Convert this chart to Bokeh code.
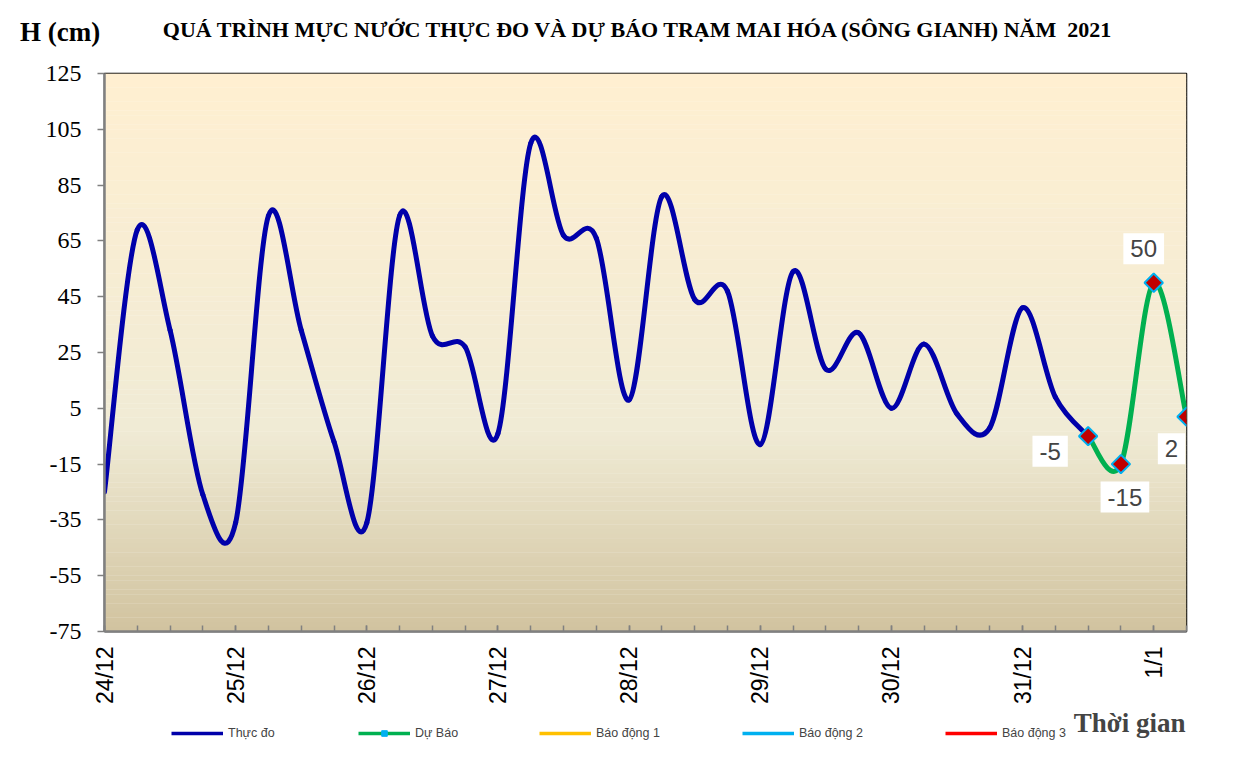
import numpy as np
from bokeh.plotting import figure
from bokeh.layouts import column
from bokeh.models import (ColumnDataSource, FixedTicker, Legend, LegendItem, Label, Range1d, Div)
from bokeh.embed import file_html
from bokeh.resources import INLINE

# ---------------- data ----------------
day_labels = ["24/12", "25/12", "26/12", "27/12", "28/12", "29/12", "30/12", "31/12", "1/1"]
steps_per_day = 4          # 6-hourly readings
n_steps = 33               # 24/12 00h .. 1/1 06h
obs_values = [-25, 69, 33, -26, -36, 74, 33, -7, -36, 74, 31, 27, -4, 100, 67, 66,
              8, 81, 44, 47, -8, 54, 19, 32, 5, 28, 3, -2, 41, 9, -5]
fc_values = [-5, -15, 50, 2]
fc_start = 30
legend_names = ["Thực đo", "Dự Báo", "Báo động 1", "Báo động 2", "Báo động 3"]
y_ticks = [-75, -55, -35, -15, 5, 25, 45, 65, 85, 105, 125]

obs_x = list(range(len(obs_values)))
fc_x = list(range(fc_start, fc_start + len(fc_values)))

TITLE = "QUÁ TRÌNH MỰC NƯỚC THỰC ĐO VÀ DỰ BÁO TRẠM MAI HÓA (SÔNG GIANH) NĂM  2021"
Y_TITLE = "H (cm)"
X_TITLE = "Thời gian"
BLUE = "#0000AA"
GREEN = "#00B050"
W = 1237
FRAME_L, FRAME_R = 104, 1186
TOP_H, MAIN_H, BOT_H = 61, 646, 60

Y0, Y1 = -75, 125
X0, X1 = 0, n_steps

# ---------------- header strip (HTML text) ----------------
span = ("position:absolute;top:{top}px;{pos}font-family:'Liberation Serif';font-weight:bold;"
        "font-size:{size}px;line-height:30px;white-space:pre;color:black;")
header_html = (
    '<div style="position:relative;width:%dpx;height:%dpx;">' % (W, TOP_H)
    + '<span style="%s">%s</span>' % (span.format(top=17, pos="left:20px;", size=27), Y_TITLE)
    + '<span style="%s">%s</span>' % (span.format(top=15, pos="left:637px;transform:translateX(-50%);", size=22), TITLE)
    + '</div>')
top = Div(text=header_html, width=W, height=TOP_H, margin=0)

# ---------------- main chart ----------------
p = figure(width=W, height=MAIN_H, x_range=Range1d(X0, X1), y_range=Range1d(Y0, Y1),
           output_backend="svg", toolbar_location=None,
           min_border_left=FRAME_L, min_border_right=W - FRAME_R,
           min_border_top=12, min_border_bottom=75)
p.title.visible = False
p.background_fill_color = "white"
p.border_fill_color = "white"
p.xgrid.visible = False
p.ygrid.visible = False
p.outline_line_color = "black"
p.outline_line_width = 1.5

# parchment gradient background (decoration)
def lerp(c1, c2, t):
    return tuple(int(round(a + (b - a) * t)) for a, b in zip(c1, c2))

stops = [(0.0, (255, 239, 209)), (0.64, (240, 235, 213)), (1.0, (209, 195, 159))]
nb = 120
bots, tops, cols = [], [], []
for k in range(nb):
    f = (k + 0.5) / nb
    for j in range(len(stops) - 1):
        if stops[j][0] <= f <= stops[j + 1][0]:
            t = (f - stops[j][0]) / (stops[j + 1][0] - stops[j][0])
            c = lerp(stops[j][1], stops[j + 1][1], t)
            break
    tops.append(Y1 - (Y1 - Y0) * k / nb + 0.05)
    bots.append(Y1 - (Y1 - Y0) * (k + 1) / nb - 0.05)
    cols.append("#%02x%02x%02x" % c)
p.quad(left=X0, right=X1, bottom=bots, top=tops, fill_color=cols, line_color=None)

# smooth (Excel-like) curves drawn as bezier segments
def bezier_source(xs, ys):
    ex = [xs[0]] + list(xs) + [xs[-1]]
    ey = [ys[0]] + list(ys) + [ys[-1]]
    d = dict(x0=[], y0=[], x1=[], y1=[], cx0=[], cy0=[], cx1=[], cy1=[])
    for i in range(len(xs) - 1):
        pm, p0, p1, pn = i, i + 1, i + 2, i + 3
        d["x0"].append(ex[p0]); d["y0"].append(ey[p0])
        d["x1"].append(ex[p1]); d["y1"].append(ey[p1])
        d["cx0"].append(ex[p0] + (ex[p1] - ex[pm]) / 6.0)
        d["cy0"].append(ey[p0] + (ey[p1] - ey[pm]) / 6.0)
        d["cx1"].append(ex[p1] - (ex[pn] - ex[p0]) / 6.0)
        d["cy1"].append(ey[p1] - (ey[pn] - ey[p0]) / 6.0)
    return ColumnDataSource(d)

p.bezier(x0="x0", y0="y0", x1="x1", y1="y1", cx0="cx0", cy0="cy0", cx1="cx1", cy1="cy1",
         source=bezier_source(obs_x, obs_values), line_color=BLUE, line_width=5,
         line_cap="round")
p.bezier(x0="x0", y0="y0", x1="x1", y1="y1", cx0="cx0", cy0="cy0", cx1="cx1", cy1="cy1",
         source=bezier_source(fc_x, fc_values), line_color=GREEN, line_width=5,
         line_cap="round")
p.scatter(fc_x, fc_values, marker="square", angle=np.pi / 4, size=13,
          fill_color="#C00000", line_color="#00B0F0", line_width=2)

# data labels
lab_off = [(-38, -15), (4, -33), (-10, 34), (-15, -32)]
for xv, yv, (dx, dy) in zip(fc_x, fc_values, lab_off):
    p.add_layout(Label(x=xv, y=yv, x_offset=dx, y_offset=dy, text=str(yv),
                       text_font="Liberation Sans", text_font_size="24px",
                       text_align="center", text_baseline="middle",
                       background_fill_color="white", padding=7))

# axes
p.xaxis.ticker = FixedTicker(ticks=[i * steps_per_day for i in range(len(day_labels))],
                             minor_ticks=list(range(0, n_steps + 1)))
p.xaxis.major_label_overrides = {i * steps_per_day: lab for i, lab in enumerate(day_labels)}
p.xaxis.major_label_orientation = np.pi / 2
p.xaxis.major_label_text_font = "Liberation Sans"
p.xaxis.major_label_text_font_size = "23px"
p.xaxis.major_label_text_color = "black"
p.xaxis.major_label_standoff = 15
p.xaxis.major_tick_in = 6
p.xaxis.major_tick_out = 0
p.xaxis.minor_tick_in = 6
p.xaxis.minor_tick_out = 0
p.xaxis.axis_line_color = "#808080"
p.xaxis.axis_line_width = 2.5
p.xaxis.major_tick_line_color = "#808080"
p.xaxis.minor_tick_line_color = "#808080"
p.xaxis.major_tick_line_width = 1.5
p.xaxis.minor_tick_line_width = 1.5

p.yaxis.ticker = FixedTicker(ticks=y_ticks, minor_ticks=[])
p.yaxis.major_label_overrides = {v: str(v) for v in y_ticks}
p.yaxis.major_label_text_font = "Liberation Serif"
p.yaxis.major_label_text_font_size = "24px"
p.yaxis.major_label_text_color = "black"
p.yaxis.major_label_standoff = 16
p.yaxis.major_tick_in = 0
p.yaxis.major_tick_out = 7
p.yaxis.axis_line_color = "#808080"
p.yaxis.axis_line_width = 2.5
p.yaxis.major_tick_line_color = "#808080"
p.yaxis.major_tick_line_width = 1.5

# ---------------- footer strip: legend + axis title ----------------
# (its frame is aligned with the main chart's frame, so x is in page pixels)
bot = figure(width=W, height=BOT_H, x_range=Range1d(FRAME_L, FRAME_R), y_range=Range1d(BOT_H, 0),
             output_backend="svg", toolbar_location=None, x_axis_type=None,
             y_axis_type=None, min_border=0)
bot.title.visible = False
bot.xgrid.visible = False
bot.ygrid.visible = False
bot.outline_line_color = None
bot.background_fill_color = "white"
bot.border_fill_color = "white"
bot.add_layout(Label(x=FRAME_R - 1, y=15, text=X_TITLE, text_font="Liberation Serif",
                     text_font_style="bold", text_font_size="27px",
                     text_align="right", text_baseline="middle"))

# legend swatches (no visible data points)
sw = dict(x=[np.nan], y=[np.nan])
lg_obs = bot.line(sw["x"], sw["y"], line_color=BLUE, line_width=3.5)
lg_fc_line = bot.line(sw["x"], sw["y"], line_color=GREEN, line_width=3.5)
lg_fc_mark = bot.scatter(sw["x"], sw["y"], marker="square", angle=np.pi / 4, size=5,
                         fill_color="#00B0F0", line_color="#00B0F0")
lg_a1 = bot.line(sw["x"], sw["y"], line_color="#FFC000", line_width=3.5)
lg_a2 = bot.line(sw["x"], sw["y"], line_color="#00B0F0", line_width=3.5)
lg_a3 = bot.line(sw["x"], sw["y"], line_color="#FF0000", line_width=3.5)

legend_rends = [[lg_obs], [lg_fc_line, lg_fc_mark], [lg_a1], [lg_a2], [lg_a3]]
legend_x = [171, 358, 539, 742, 945]
for name, rends, gx in zip(legend_names, legend_rends, legend_x):
    bot.add_layout(Legend(items=[LegendItem(label=name, renderers=rends)],
                          location=(gx - FRAME_L, 27), orientation="horizontal",
                          padding=0, margin=0, spacing=0,
                          glyph_width=52, glyph_height=14, label_height=14, label_standoff=5,
                          label_text_font="Liberation Sans", label_text_font_size="12.5px",
                          background_fill_alpha=0, border_line_color=None))

layout = column(top, p, bot, spacing=0)
open("out.html", "w").write(file_html(layout, INLINE))
